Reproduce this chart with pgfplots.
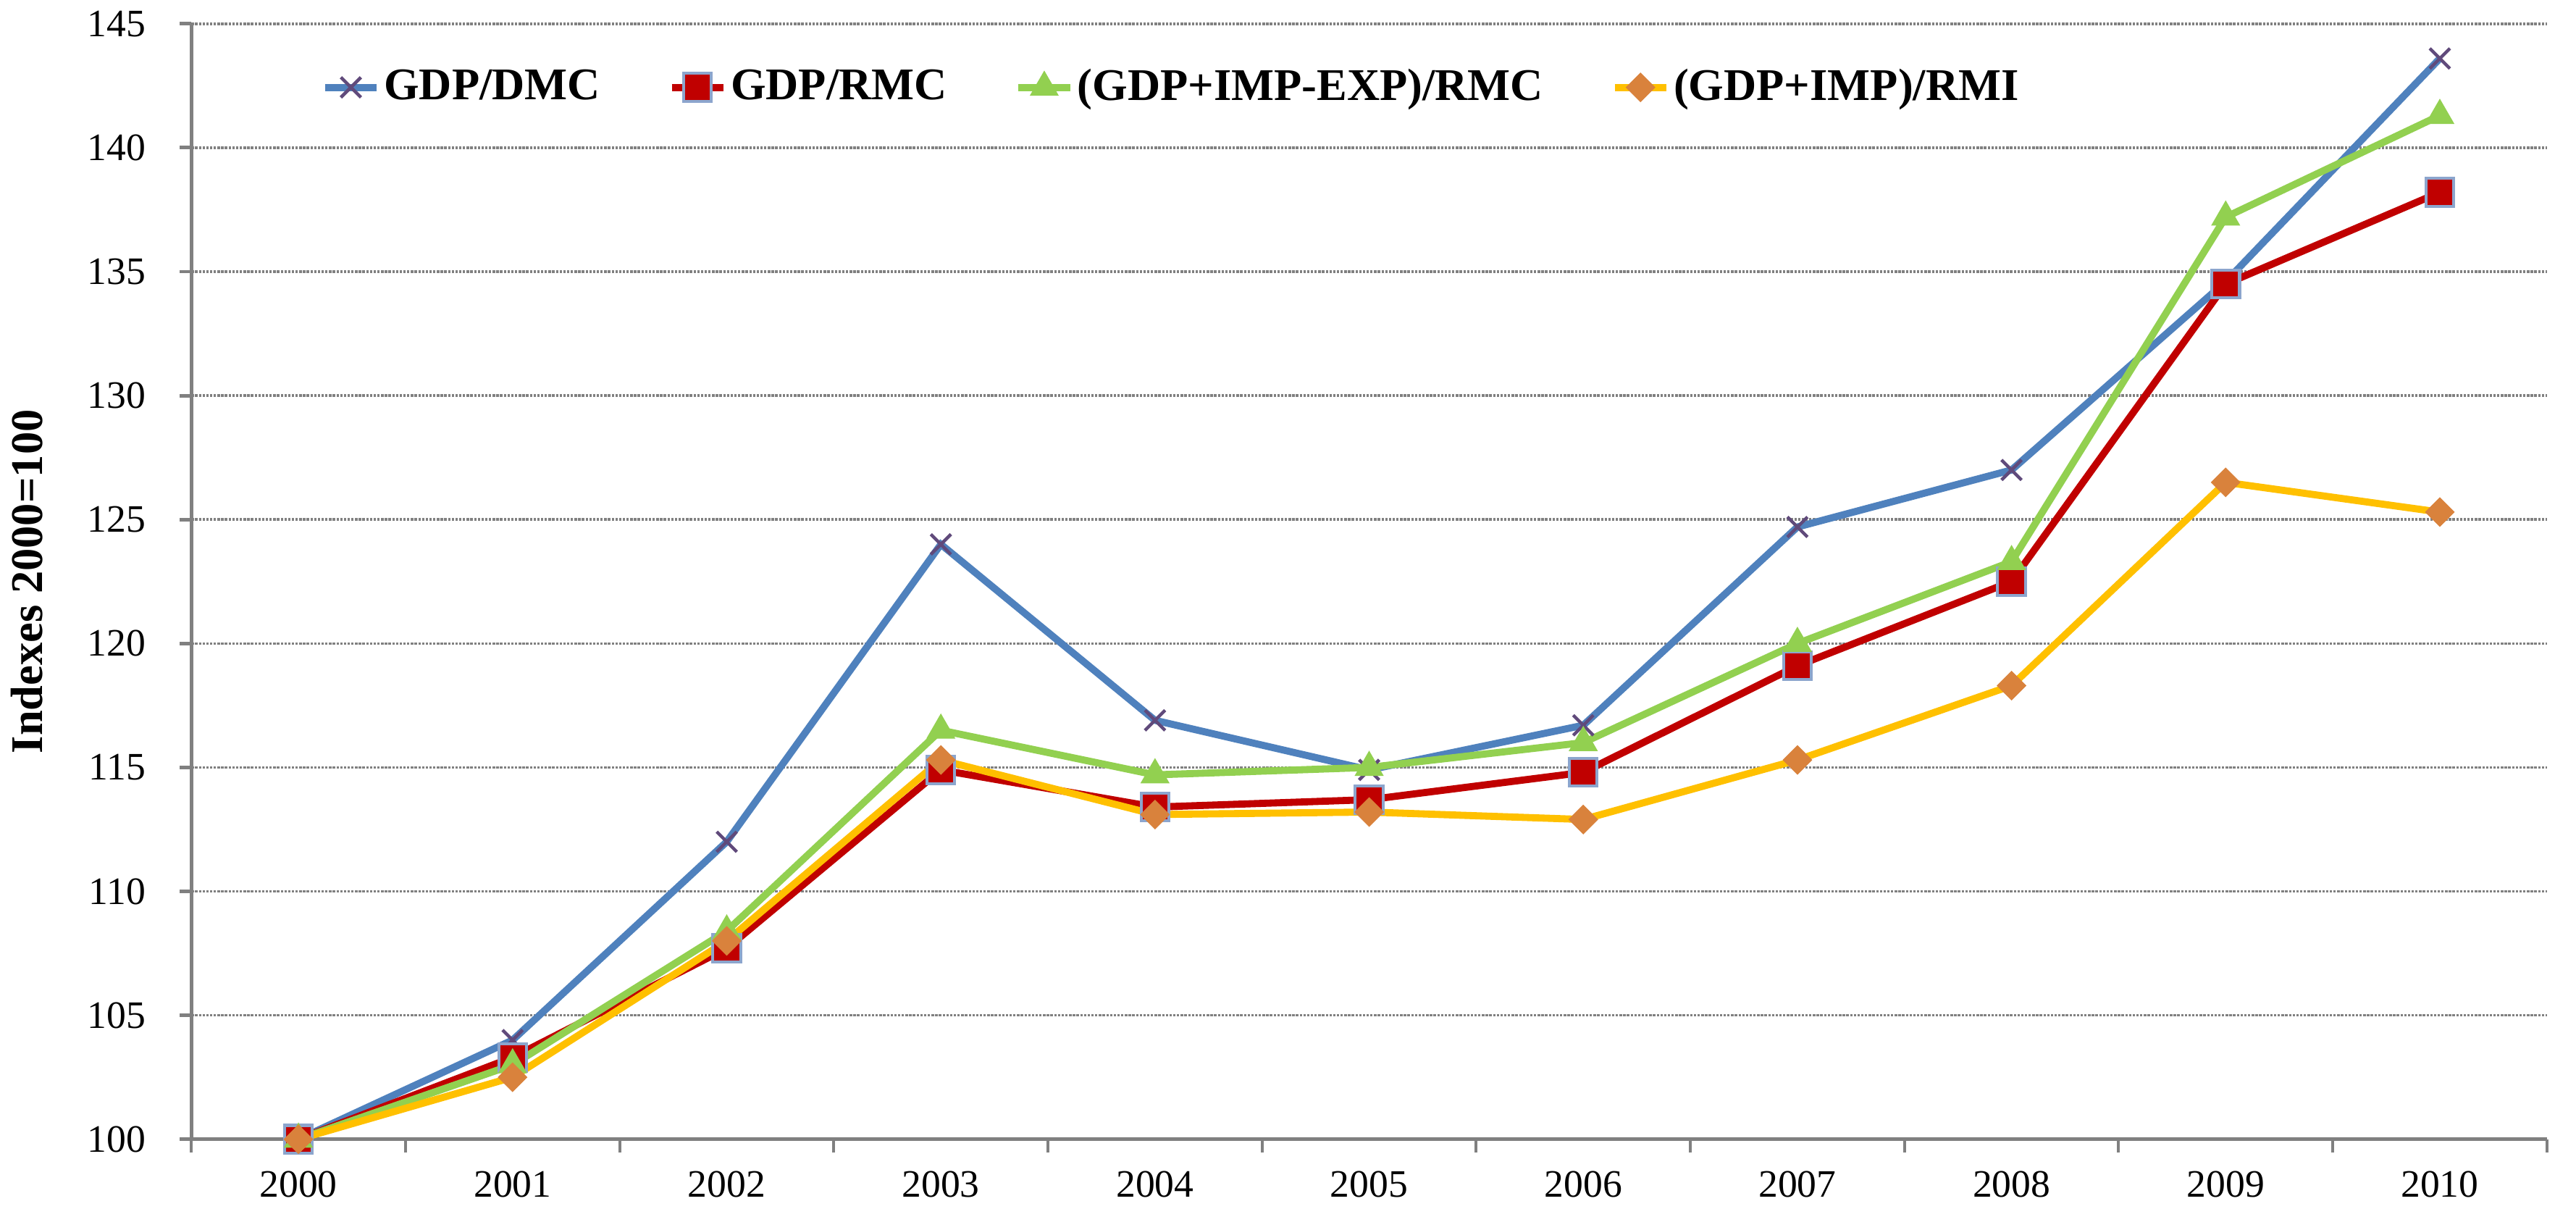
\documentclass[border=0pt]{standalone}
\usepackage{fontspec}
\setmainfont{Liberation Serif}
\usepackage{pgfplots}
\pgfplotsset{compat=1.18}

\definecolor{cBlue}{RGB}{79,129,189}
\definecolor{cPurple}{RGB}{96,74,123}
\definecolor{cRed}{RGB}{192,0,0}
\definecolor{cEdge}{RGB}{140,165,205}
\definecolor{cGreen}{RGB}{146,208,80}
\definecolor{cYellow}{RGB}{255,192,0}
\definecolor{cOrange}{RGB}{217,130,60}
\definecolor{cAxis}{RGB}{128,128,128}

\begin{document}
\begin{tikzpicture}
\begin{axis}[
    width=25.6cm,
    height=12.12cm,
    scale only axis,
    xmin=-0.5, xmax=10.5,
    ymin=100, ymax=145,
    ytick={100,105,...,145},
    xtick={0,...,10},
    xticklabels={2000,2001,2002,2003,2004,2005,2006,2007,2008,2009,2010},
    minor xtick={-0.5,0.5,...,10.5},
    major x tick style={draw=none},
    minor x tick style={draw=cAxis, line width=0.9pt},
    minor tick length=4.2pt,
    major tick length=3.6pt,
    tick align=outside,
    axis lines*=left,
    axis line style={draw=cAxis, line width=1pt},
    ytick style={draw=cAxis, line width=1.1pt},
    ymajorgrids,
    major grid style={draw=cAxis, line width=0.8pt, dash pattern=on 0.75pt off 0.4pt},
    tick label style={font=\fontsize{12}{14}\selectfont},
    xticklabel style={yshift=-2.8pt},
    yticklabel style={xshift=-7pt},
    /pgf/number format/assume math mode=true,
    ylabel={\textbf{Indexes 2000=100}},
    ylabel style={font=\fontsize{14}{16}\selectfont, yshift=7pt},
    legend columns=4,
    legend style={at={(0.055,0.943)}, anchor=west, draw=none, fill=none,
        inner sep=0pt, nodes={inner xsep=0pt},
        font=\bfseries\fontsize{14}{16}\selectfont},
    legend cell align=left,
    legend image code/.code={\draw[mark repeat=2, mark phase=2]
        plot coordinates {(0cm,0cm) (0.28cm,0cm) (0.56cm,0cm)};},
    /tikz/every odd column/.append style={column sep=1.2pt},
    /tikz/every even column/.append style={column sep=21pt},
    clip=false,
]
\addplot[cBlue, line width=2.2pt, mark=x, mark size=4.4pt,
    mark options={draw=cPurple, line width=1pt}]
coordinates {(0,100) (1,104.0) (2,112.0) (3,124.0) (4,116.9) (5,114.9)
    (6,116.7) (7,124.7) (8,127.0) (9,134.6) (10,143.6)};
\addlegendentry{GDP/DMC}
\addplot[cRed, line width=2.2pt, mark=square*, mark size=4.3pt,
    mark options={fill=cRed, draw=cEdge, line width=0.9pt}]
coordinates {(0,100) (1,103.3) (2,107.7) (3,114.9) (4,113.4) (5,113.7)
    (6,114.8) (7,119.1) (8,122.5) (9,134.5) (10,138.2)};
\addlegendentry{GDP/RMC}
\addplot[cGreen, line width=2.2pt, mark=triangle*, mark size=4.9pt,
    mark options={fill=cGreen, draw=cGreen, line width=0.3pt}]
coordinates {(0,100) (1,103.0) (2,108.4) (3,116.5) (4,114.7) (5,115.0)
    (6,116.0) (7,120.0) (8,123.3) (9,137.2) (10,141.3)};
\addlegendentry{(GDP+IMP-EXP)/RMC}
\addplot[cYellow, line width=2.2pt, mark=square*, mark size=3.1pt,
    mark options={fill=cOrange, draw=cOrange, line width=0.3pt, rotate=45}]
coordinates {(0,100) (1,102.5) (2,108.0) (3,115.3) (4,113.1) (5,113.2)
    (6,112.9) (7,115.3) (8,118.3) (9,126.5) (10,125.3)};
\addlegendentry{(GDP+IMP)/RMI}
\end{axis}
\path (current axis.south east) -- ++(9pt,0pt);
\end{tikzpicture}
\end{document}
